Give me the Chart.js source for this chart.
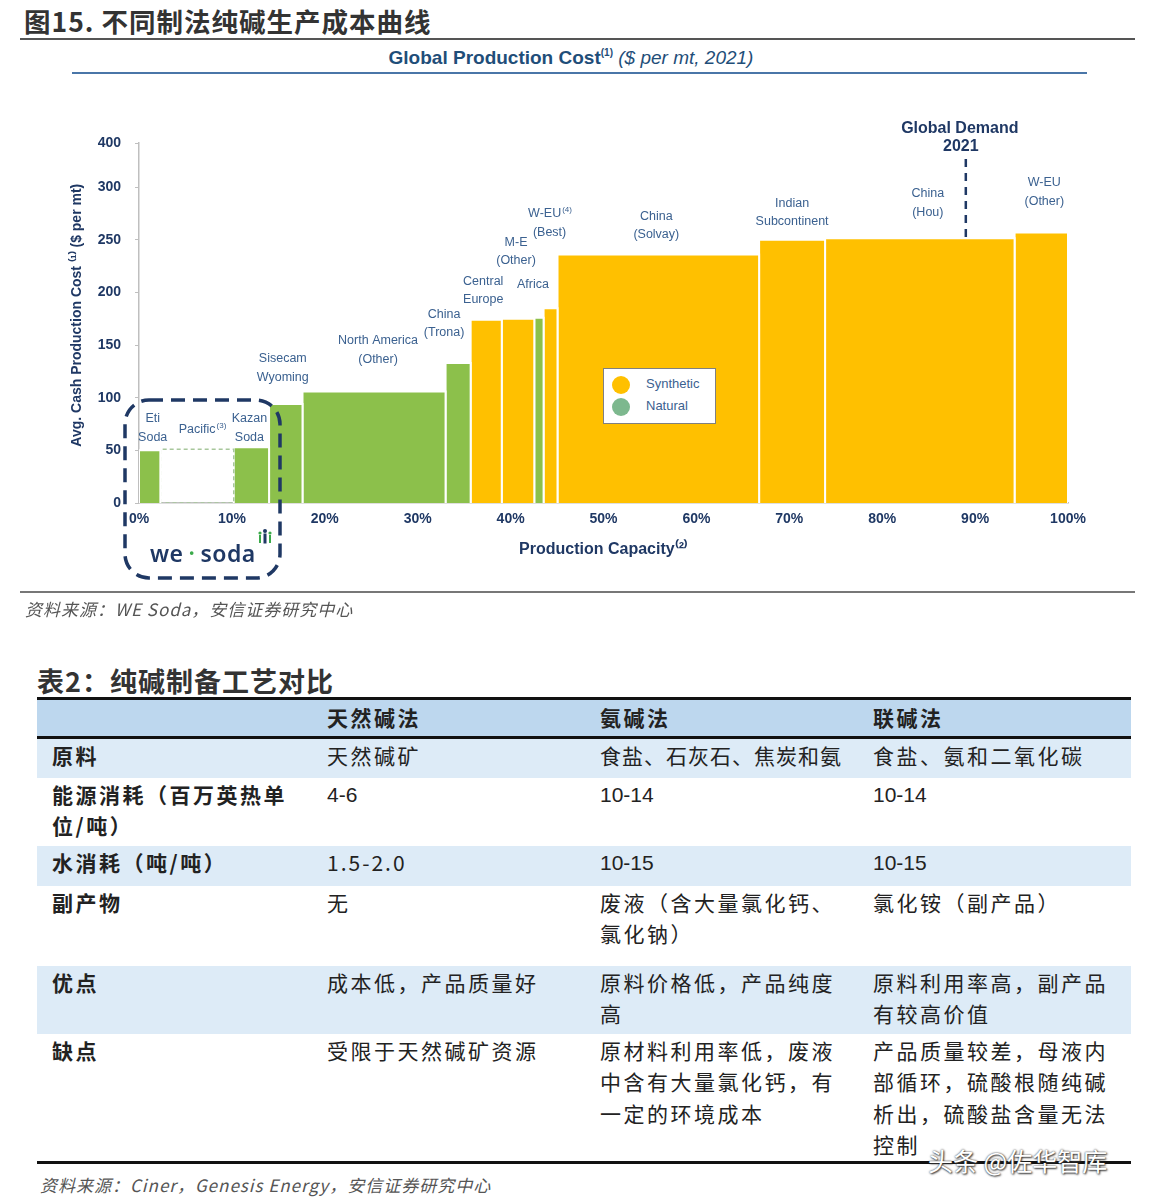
<!DOCTYPE html>
<html>
<head>
<meta charset="utf-8">
<script src="https://cdn.jsdelivr.net/npm/chart.js@4.4.1/dist/chart.umd.min.js"></script>
<style>
  body { margin: 0; background: #fff; }
  #page { position: relative; width: 1168px; height: 1202px; overflow: hidden; font-family: "Noto Sans CJK SC", sans-serif; color: #222; }
  .abs { position: absolute; }
  #cost { position: absolute; left: 0; top: 0; }
  #figTitle { left: 24px; top: 1px; font-size: 26.5px; font-weight: 700; color: #333; letter-spacing: 1px; }
  #subTitle { left: 0; top: 47px; width: 1142px; text-align: center; font: bold 19px "Liberation Sans", Arial, sans-serif; color: #1F4E79; }
  #subTitle sup { font-size: 10px; vertical-align: 8px; }
  #subTitle i { font-weight: normal; }
  #legend { left: 603px; top: 368px; width: 111px; height: 54px; border: 1px solid #808080; background: #fff; z-index: 2; font: 13px "Liberation Sans", Arial, sans-serif; color: #3B6190; }
  #legend .row { position: absolute; left: 8px; height: 20px; line-height: 20px; }
  #legend .dot { display: inline-block; width: 18px; height: 18px; border-radius: 50%; vertical-align: middle; margin-right: 16px; }
  #logo { left: 150px; top: 528px; font: 600 23px "Noto Sans", "Liberation Sans", sans-serif; color: #1F3864; letter-spacing: 0.5px; z-index: 2; }
  .src { font-style: italic; color: #555; font-size: 17px; letter-spacing: 1px; }
  #tblTitle { left: 37px; top: 661px; font-size: 27px; font-weight: 700; color: #333; letter-spacing: 1px; }
  table { position: absolute; left: 37px; top: 697px; width: 1094px; border-collapse: collapse; table-layout: fixed; }
  td { vertical-align: top; padding: 1px 8px 0 15px; font-size: 21px; line-height: 31.5px; letter-spacing: 2.5px; color: #222; }
  td.lab { font-weight: 700; }
  tr.head td { background: #BDD7EE; font-weight: 700; height: 34px; padding-top: 2px; border-top: 3px solid #111; border-bottom: 3px solid #111; }
  tr.light td { background: #DDEBF7; }
  tr.last td { border-bottom: 3px solid #111; }
  .num { font-family: "Liberation Sans", Arial, sans-serif; letter-spacing: 0; }
  #mark { left: 928px; top: 1142px; font-size: 25px; color: #fff; text-shadow: 0 0 2px #333, 1px 1px 2px #333; z-index: 3; }
</style>
</head>
<body>
<div id="page">
  <div id="figTitle" class="abs">图15. 不同制法纯碱生产成本曲线</div>
  <div class="abs" style="left:20px;top:38px;width:1115px;height:2px;background:#555"></div>
  <div id="subTitle" class="abs">Global Production Cost<sup>(1)</sup> <i>($ per mt, 2021)</i></div>
  <div class="abs" style="left:72px;top:72px;width:1015px;height:2px;background:#4A76A8"></div>

  <canvas id="cost" width="1168" height="600"></canvas>

  <div id="legend" class="abs">
    <div class="row" style="top:5px"><span class="dot" style="background:#FFC000"></span>Synthetic</div>
    <div class="row" style="top:27px"><span class="dot" style="background:#7DB88E"></span>Natural</div>
  </div>
  <div id="logo" class="abs">we<span style="color:#3BAA4A;margin:0 5px">·</span>soda<svg width="16" height="20" viewBox="0 0 16 20" style="vertical-align:14px;margin-left:1px"><circle cx="3" cy="5" r="1.6" fill="#3BAA4A"/><rect x="2" y="7" width="2" height="8" fill="#3BAA4A"/><circle cx="8" cy="3" r="2" fill="#1F3864"/><rect x="6.5" y="5.5" width="3" height="10" fill="#1F3864"/><circle cx="13" cy="5" r="1.6" fill="#3BAA4A"/><rect x="12" y="7" width="2" height="8" fill="#3BAA4A"/></svg></div>

  <div class="abs" style="left:20px;top:591px;width:1115px;height:2px;background:#777"></div>
  <div class="abs src" style="left:25px;top:596px">资料来源：WE Soda，安信证券研究中心</div>

  <div id="tblTitle" class="abs">表2：纯碱制备工艺对比</div>
  <table>
    <colgroup><col style="width:275px"><col style="width:273px"><col style="width:273px"><col style="width:273px"></colgroup>
    <tr class="head"><td></td><td>天然碱法</td><td>氨碱法</td><td>联碱法</td></tr>
    <tr class="light" style="height:40px"><td class="lab">原料</td><td>天然碱矿</td><td style="white-space:nowrap;letter-spacing:1px">食盐、石灰石、焦炭和氨</td><td>食盐、氨和二氧化碳</td></tr>
    <tr style="height:68px"><td class="lab">能源消耗（百万英热单位/吨）</td><td class="num">4-6</td><td class="num">10-14</td><td class="num">10-14</td></tr>
    <tr class="light" style="height:40px"><td class="lab">水消耗（吨/吨）</td><td style="letter-spacing:2px">1.5-2.0</td><td class="num">10-15</td><td class="num">10-15</td></tr>
    <tr style="height:80px"><td class="lab">副产物</td><td>无</td><td>废液（含大量氯化钙、氯化钠）</td><td>氯化铵（副产品）</td></tr>
    <tr class="light" style="height:68px"><td class="lab">优点</td><td>成本低，产品质量好</td><td>原料价格低，产品纯度高</td><td>原料利用率高，副产品有较高价值</td></tr>
    <tr class="last" style="height:127px"><td class="lab">缺点</td><td>受限于天然碱矿资源</td><td>原材料利用率低，废液中含有大量氯化钙，有一定的环境成本</td><td>产品质量较差，母液内部循环，硫酸根随纯碱析出，硫酸盐含量无法控制</td></tr>
  </table>
  <div class="abs src" style="left:40px;top:1172px">资料来源：Ciner，Genesis Energy，安信证券研究中心</div>
  <div id="mark" class="abs">头条 @佐华智库</div>
</div>

<script>
// cost curve data (share of global capacity in %, cash cost in $/mt)
const producers = ["Eti Soda", "Pacific", "Kazan Soda", "Sisecam Wyoming", "North America (Other)", "China (Trona)",
  "Central Europe", "M-E (Other)", "Africa", "W-EU (Best)", "China (Solvay)", "Indian Subcontinent", "China (Hou)", "W-EU (Other)"];
const capacityShare = [2.3, 7.9, 3.8, 3.6, 15.4, 2.7, 3.35, 3.5, 1.0, 1.5, 21.7, 7.1, 20.4, 5.75];
const cashCost = [50, 51, 53, 94, 106, 133, 174, 175, 176, 185, 236, 250, 251.5, 257];
const process = ["natural", "planned", "natural", "natural", "natural", "natural",
  "synthetic", "synthetic", "natural", "synthetic", "synthetic", "synthetic", "synthetic", "synthetic"];
const labelLines = [["Eti", "Soda"], ["Pacific^(3)"], ["Kazan", "Soda"], ["Sisecam", "Wyoming"], ["North America", "(Other)"],
  ["China", "(Trona)"], ["Central", "Europe"], ["M-E", "(Other)"], ["Africa"], ["W-EU^(4)", "(Best)"], ["China", "(Solvay)"],
  ["Indian", "Subcontinent"], ["China", "(Hou)"], ["W-EU", "(Other)"]];

const demand2021 = 89.0;
const demandLineTop = 330;

const xTickValues = [0, 10, 20, 30, 40, 50, 60, 70, 80, 90, 100];
const yTickValues = [0, 50, 100, 150, 200, 250, 300, 342];
const yTickLabels = ["0", "50", "100", "150", "200", "250", "300", "400"];

const COLORS = {
  natural: "#8CC04B",
  synthetic: "#FFC000",
  planned: "rgba(0,0,0,0)",
  plannedEdge: "#A8C79C",
  navy: "#1F3864",
  label: "#3B6190",
  axis: "#BFBFBF",
};

// label placement relative to bar centre / bar top (px)
const LABEL_DX = [3, 5, -2, -3, 4, -14, -3, -2, -6, -1, -2, 0, 8, 3];
const LABEL_DY = [13, 20, 10, 27, 32, 30, 20, 58, 33, 76, 20, 18, 26, 31];

const xEdges = capacityShare.reduce((acc, w) => { acc.push(acc[acc.length - 1] + w); return acc; }, [0]);

const barSets = producers.map((name, i) => {
  const x0 = xEdges[i], x1 = xEdges[i + 1], c = cashCost[i];
  const planned = process[i] === "planned";
  const pts = [{ x: x0, y: 0 }, { x: x0, y: c }, { x: x1, y: c }, { x: x1, y: 0 }];
  if (planned) pts.push({ x: x0, y: 0 });
  return {
    label: name,
    data: pts,
    showLine: true,
    pointRadius: 0,
    tension: 0,
    fill: planned ? false : "origin",
    backgroundColor: COLORS[process[i]],
    borderColor: planned ? COLORS.plannedEdge : "#ffffff",
    borderWidth: planned ? 1.5 : 2,
    borderDash: planned ? [4, 3] : [],
  };
});

const demandSet = {
  label: "Global Demand 2021",
  data: [{ x: demand2021, y: 0 }, { x: demand2021, y: demandLineTop }],
  showLine: true,
  pointRadius: 0,
  fill: false,
  borderColor: COLORS.navy,
  borderWidth: 2.5,
  borderDash: [8, 6],
};

function drawTextWithSup(ctx, text, cx, cy, font, supFont) {
  const [main, sup] = text.split("^");
  ctx.font = font;
  const wMain = ctx.measureText(main).width;
  ctx.font = supFont;
  const wSup = sup ? ctx.measureText(sup).width : 0;
  const left = cx - (wMain + wSup) / 2;
  ctx.textAlign = "left";
  ctx.font = font;
  ctx.fillText(main, left, cy);
  if (sup) {
    ctx.font = supFont;
    ctx.fillText(sup, left + wMain + 1, cy - 4);
  }
}

const decorPlugin = {
  id: "decor",
  afterDatasetsDraw(chart) {
    const { ctx, scales: { x, y } } = chart;
    ctx.save();
    // producer labels
    ctx.fillStyle = COLORS.label;
    ctx.textBaseline = "middle";
    const lh = 18.5;
    producers.forEach((name, i) => {
      const cx = x.getPixelForValue((xEdges[i] + xEdges[i + 1]) / 2) + LABEL_DX[i];
      const bottom = y.getPixelForValue(cashCost[i]) - LABEL_DY[i];
      const lines = labelLines[i];
      lines.forEach((ln, k) => {
        const cy = bottom - (lines.length - 1 - k) * lh;
        drawTextWithSup(ctx, ln, cx, cy, '12.5px "Liberation Sans", Arial, sans-serif', '8px "Liberation Sans", Arial, sans-serif');
      });
    });

    // global demand label
    const dx = x.getPixelForValue(demand2021) - 6;
    const dTop = y.getPixelForValue(demandLineTop);
    ctx.fillStyle = COLORS.navy;
    ctx.textAlign = "center";
    ctx.font = 'bold 16px "Liberation Sans", Arial, sans-serif';
    ctx.fillText("Global Demand", dx, dTop - 27);
    ctx.fillText("2021", dx + 1, dTop - 9);

    // dashed frame around the WE Soda assets
    ctx.strokeStyle = COLORS.navy;
    ctx.lineWidth = 3.5;
    ctx.setLineDash([14, 8]);
    ctx.beginPath();
    ctx.roundRect(125, 400, 155, 178, 24);
    ctx.stroke();
    ctx.restore();
  },
};

new Chart(document.getElementById("cost"), {
  type: "line",
  data: { datasets: [...barSets, demandSet] },
  options: {
    responsive: false,
    animation: false,
    layout: { padding: { left: 65, right: 100, top: 143, bottom: 37 } },
    plugins: { legend: { display: false }, tooltip: { enabled: false } },
    scales: {
      x: {
        type: "linear",
        min: 0,
        max: 100,
        afterBuildTicks: (s) => { s.ticks = xTickValues.map((v) => ({ value: v })); },
        afterFit: (s) => { s.height = 60; },
        grid: { display: false },
        border: { display: true, color: COLORS.axis, width: 1.5 },
        ticks: {
          color: COLORS.navy,
          padding: 0,
          font: { family: '"Liberation Sans", Arial, sans-serif', size: 14, weight: "bold" },
          callback: (v) => v + "%",
        },
        title: {
          display: true,
          text: "Production Capacity⁽²⁾",
          color: COLORS.navy,
          font: { family: '"Liberation Sans", Arial, sans-serif', size: 16, weight: "bold" },
        },
      },
      y: {
        type: "linear",
        min: 0,
        max: 342,
        afterBuildTicks: (s) => { s.ticks = yTickValues.map((v) => ({ value: v })); },
        afterFit: (s) => { s.width = 74; },
        grid: { drawOnChartArea: false, drawTicks: true, tickLength: 4, color: COLORS.axis },
        border: { display: true, color: COLORS.axis, width: 1.5 },
        ticks: {
          color: COLORS.navy,
          padding: 14,
          font: { family: '"Liberation Sans", Arial, sans-serif', size: 14, weight: "bold" },
          callback: (v) => yTickLabels[yTickValues.indexOf(v)],
        },
        title: {
          display: true,
          text: "    Avg. Cash Production Cost ⁽¹⁾ ($ per mt)",
          color: COLORS.navy,
          font: { family: '"Liberation Sans", Arial, sans-serif', size: 14, weight: "bold" },
        },
      },
    },
  },
  plugins: [decorPlugin],
});
</script>
</body>
</html>
